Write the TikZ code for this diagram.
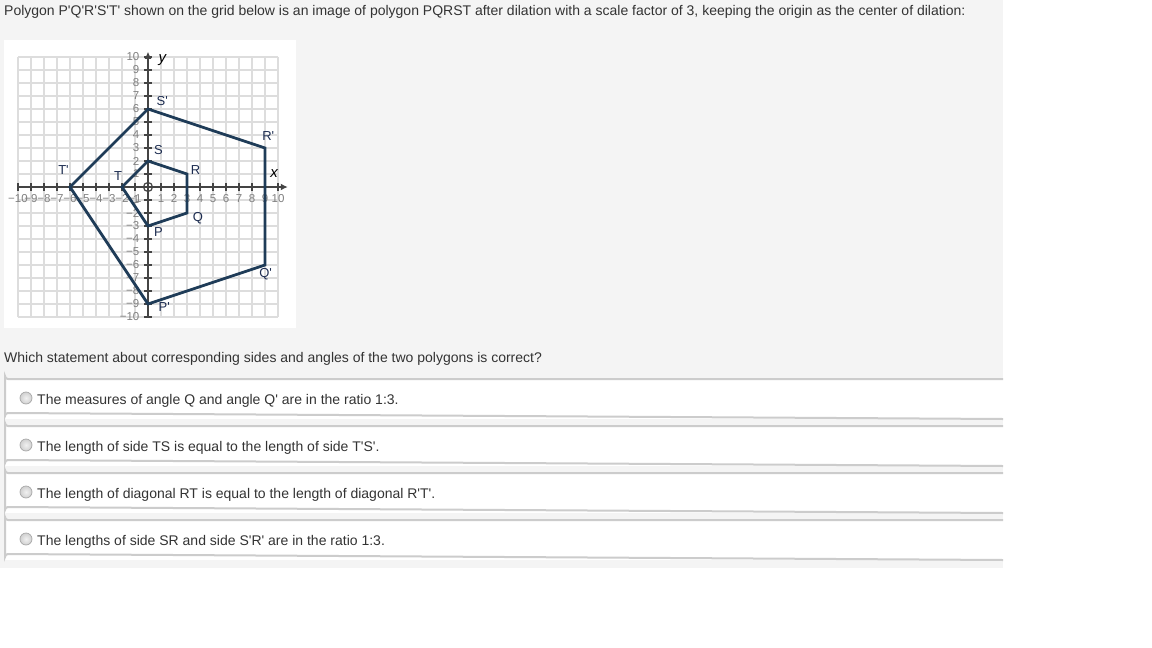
\documentclass[tikz,border=0pt]{standalone}
\usepackage{fontspec}
\setmainfont{Liberation Sans}
\usetikzlibrary{arrows.meta}
\definecolor{bggray}{HTML}{F4F4F4}
\definecolor{gridc}{HTML}{DDDDDD}
\definecolor{axisc}{HTML}{444444}
\definecolor{tickc}{HTML}{808080}
\definecolor{polyc}{HTML}{1F3C58}
\definecolor{labc}{HTML}{1C2C50}
\definecolor{txtc}{HTML}{333333}
\definecolor{boxc}{HTML}{CCCCCC}
\definecolor{radioc}{HTML}{A8A8A8}
\definecolor{radiof}{HTML}{D0D0D0}
\newcommand{\ap}{\textquotesingle}
\tikzset{
  maintext/.style={anchor=base west, inner sep=0pt, text=txtc, font=\fontsize{14}{16}\selectfont},
  gridline/.style={draw=gridc, line width=1.4pt},
  axisline/.style={draw=axisc, line width=1.8pt},
  ticklab/.style={inner sep=0pt, text=tickc, font=\fontsize{11.5}{12}\selectfont},
  polyline/.style={draw=polyc, line width=2.8pt, line join=miter},
  vlab/.style={inner sep=0pt, text=labc, font=\fontsize{13}{14}\selectfont},
  radio/.style={circle, draw=radioc, line width=0.7pt, inner color=white!70!radiof, outer color=radiof, minimum size=12pt, inner sep=0pt}
}
\begin{document}
\begin{tikzpicture}[x=1pt,y=-1pt]
\useasboundingbox (0,0) rectangle (1152,648);
\fill[white] (0,0) rectangle (1152,648);
\fill[bggray] (0,0) rectangle (1003,567.5);
% heading
\node[maintext] (head) at (4,15) {Polygon P\ap Q\ap R\ap S\ap T\ap{} shown on the grid below is an image of polygon PQRST after dilation with a scale factor of 3, keeping the origin as the center of dilation:};
% graph panel
\fill[white] (4,40) rectangle (296,328);
\begin{scope}[shift={(148,187)}, x=13pt, y=13pt]
  \foreach \i in {-10,...,10} {
    \draw[gridline] (\i,-10) -- (\i,10);
    \draw[gridline] (-10,\i) -- (10,\i);
  }
  \coordinate (xstart) at (-10,0);
  \coordinate (xend) at (10.75,0);
  \coordinate (ystart) at (0,-10);
  \coordinate (yend) at (0,10.4);
  \draw[axisline, -{Latex[length=7pt,width=7pt]}] (xstart) -- (xend);
  \draw[axisline, -{Latex[length=7pt,width=7pt]}] (ystart) -- (yend);
  \foreach \i in {-10,...,-1,1,2,...,10} {
    \draw[draw=axisc, line width=1.2pt] (\i,-0.28) -- (\i,0.28);
    \draw[draw=axisc, line width=1.2pt] (-0.28,\i) -- (0.28,\i);
  }
  \foreach \i in {-10,...,-1} {
    \node[ticklab] (xl\i) at (\i,-0.92) {−\number-\i};
    \node[ticklab, anchor=east] (yl\i) at (-0.65,\i) {−\number-\i};
  }
  \foreach \i in {1,...,10} {
    \node[ticklab] (xl\i) at (\i,-0.92) {\i};
    \node[ticklab, anchor=east] (yl\i) at (-0.65,\i) {\i};
  }
  \node[circle, draw=axisc, line width=1.2pt, minimum size=9pt, inner sep=0pt] (O) at (0,0) {};
  \node[inner sep=0pt, font=\fontsize{15}{16}\selectfont\itshape] (ylab) at (1.1,9.8) {y};
  \node[inner sep=0pt, font=\fontsize{15}{16}\selectfont\itshape] (xlab) at (9.7,1.05) {x};
  % PQRST
  \coordinate (P) at (0,-3);
  \coordinate (Q) at (3,-2);
  \coordinate (R) at (3,1);
  \coordinate (S) at (0,2);
  \coordinate (T) at (-2,0);
  \coordinate (P') at (0,-9);
  \coordinate (Q') at (9,-6);
  \coordinate (R') at (9,3);
  \coordinate (S') at (0,6);
  \coordinate (T') at (-6,0);
  \draw[polyline] (P) -- (Q) -- (R) -- (S) -- (T) -- cycle;
  \draw[polyline] (P') -- (Q') -- (R') -- (S') -- (T') -- cycle;
  \node[vlab] (lP) at (0.8,-3.45) {P};
  \node[vlab] (lQ) at (3.85,-2.4) {Q};
  \node[vlab] (lR) at (3.65,1.3) {R};
  \node[vlab] (lS) at (0.8,2.85) {S};
  \node[vlab] (lT) at (-2.3,0.85) {T};
  \node[vlab] (lP') at (1.25,-9.25) {P\ap};
  \node[vlab] (lQ') at (9.05,-6.7) {Q\ap};
  \node[vlab] (lR') at (9.25,3.9) {R\ap};
  \node[vlab] (lS') at (1.1,6.6) {S\ap};
  \node[vlab] (lT') at (-6.5,1.3) {T\ap};
\end{scope}
% question
\node[maintext] (q) at (4,362) {Which statement about corresponding sides and angles of the two polygons is correct?};
% options
\foreach \k/\t/\txt in {0/379/{The measures of angle Q and angle Q\ap{} are in the ratio 1:3.},
                       1/426/{The length of side TS is equal to the length of side T\ap S\ap.},
                       2/473/{The length of diagonal RT is equal to the length of diagonal R\ap T\ap.},
                       3/520/{The lengths of side SR and side S\ap R\ap{} are in the ratio 1:3.}} {
  \fill[white] (5,\t) rectangle (1003,\t+40);
  \draw[draw=boxc, line width=2pt] (1003,\t) -- (8,\t) arc[start angle=90, end angle=180, radius=3] -- (5,\t+37) arc[start angle=180, end angle=270, radius=3] -- (1003,\t+40);
  \node[radio] (r\k) at (26,\t+19) {};
  \node[maintext] (o\k) at (37,\t+25.5) {\txt};
}
\end{tikzpicture}
\end{document}
